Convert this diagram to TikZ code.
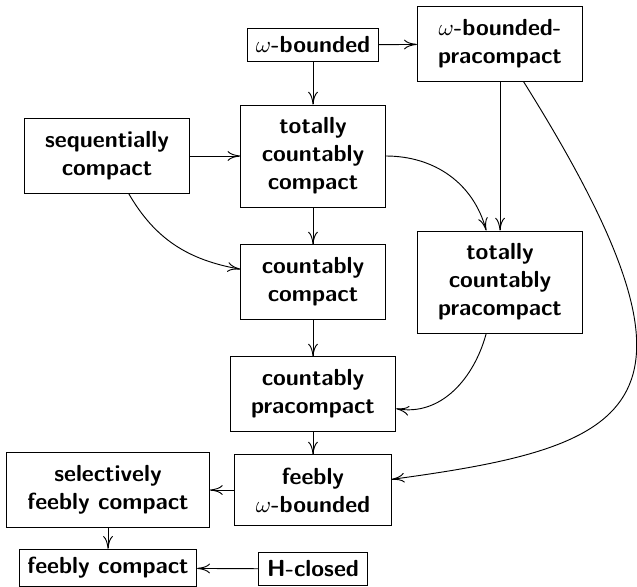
\documentclass[tikz,border=0pt]{standalone}
\usepackage{amssymb,amsmath}
\usetikzlibrary{arrows.meta}

\begin{document}
\begin{tikzpicture}[x=0.43pt, y=0.43pt, font=\sffamily\bfseries,
    >={To[length=5.5pt, width=4.2pt]},
    prop/.style={draw, align=center, inner xsep=9pt, inner ysep=5.5pt},
    propline/.style={draw, inner sep=3.5pt}]
        \useasboundingbox (0,0) rectangle (637,-587);
        \node [propline] (wb) at (313,-45) {$\omega$-bounded};
        \node [prop] (wbp) at (500,-44) {$\omega$-bounded-\\pracompact};
        \node [prop] (sc) at (107,-156) {sequentially\\compact};
        \node [prop] (tcc) at (313,-156) {totally\\countably\\compact};
        \node [prop] (cc) at (313,-282) {countably\\compact};
        \node [prop] (tcp) at (500,-282) {totally\\countably\\pracompact};
        \node [prop] (cpc) at (313,-394) {countably\\pracompact};
        \node [prop] (fwb) at (313,-490) {feebly\\$\omega$-bounded};
        \node [prop] (sfc) at (108,-490) {selectively\\feebly compact};
        \node [propline] (fc) at (108,-568) {feebly compact};
        \node [propline] (hc) at (313,-569) {H-closed};
        \draw [->] (wb) -- (wbp);
        \draw [->] (wb) -- (tcc);
        \draw [->] (sc) -- (tcc);
        \draw [->] (tcc) -- (cc);
        \draw [->] (wbp) -- (tcp);
        \draw [->] (tcc) to [out=0, in=105] (tcp);
        \draw [->] (sc) to [out=-60, in=170] (cc);
        \draw [->] (cc) -- (cpc);
        \draw [->] (tcp) to [out=-105, in=-10] (cpc);
        \draw [->] (cpc) -- (fwb);
        \draw [->] (wbp) .. controls (728,-408) and (638,-446) .. (fwb);
        \draw [->] (fwb) -- (sfc);
        \draw [->] (sfc) -- (fc);
        \draw [->] (hc) -- (fc);
      \end{tikzpicture}
\end{document}
